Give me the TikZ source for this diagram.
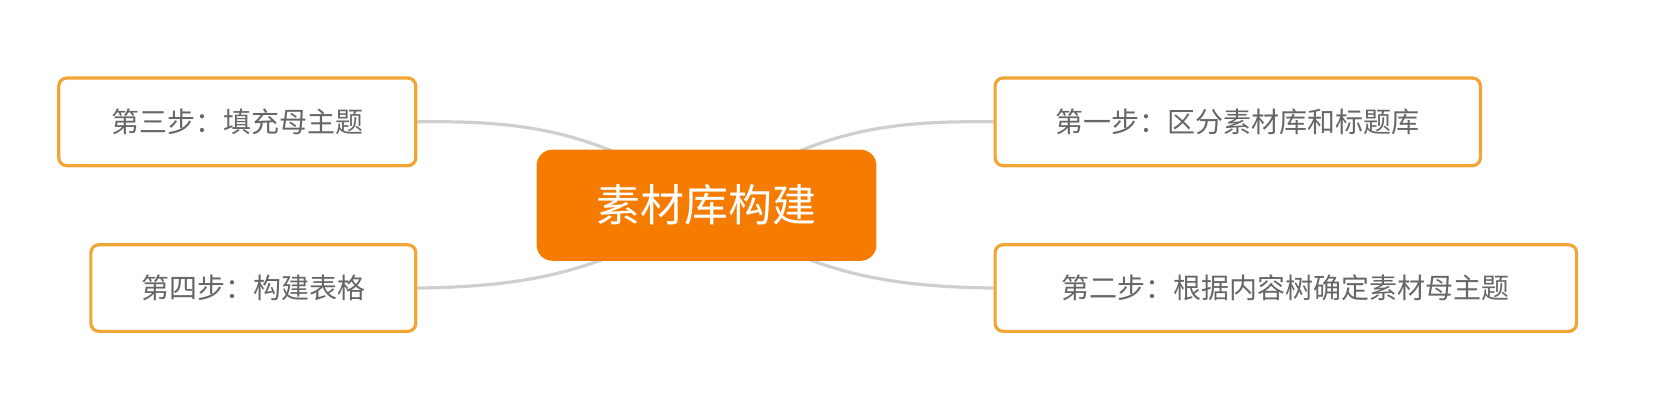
\documentclass[tikz,border=0pt]{standalone}
\usepackage{fontspec}
\newfontfamily\cjk{Noto Sans CJK SC}
\usetikzlibrary{backgrounds}
\definecolor{orn}{HTML}{F57C00}
\definecolor{bord}{HTML}{F0A535}
\definecolor{txt}{HTML}{666666}
\definecolor{ln}{HTML}{CFCFCF}
\begin{document}
\begin{tikzpicture}[x=0.5345pt,y=-0.5345pt,
  sub/.style={draw=bord,line width=1.6pt,rounded corners=4pt,fill=white,text=txt,font=\cjk\fontsize{14}{16}\selectfont,inner sep=0pt,anchor=center},
  con/.style={draw=ln,line width=1.6pt}]
\useasboundingbox (0,0) rectangle (1568,385.5);
\node[fill=orn,rounded corners=8pt,text=white,font=\cjk\fontsize{22}{26}\selectfont,minimum width=318*0.5345pt,minimum height=104*0.5345pt] (c) at (661,192) {素材库构建};
\node[sub,minimum width=334*0.5345pt,minimum height=82*0.5345pt] (lt) at (222,114) {第三步：填充母主题};
\node[sub,minimum width=304*0.5345pt,minimum height=81*0.5345pt] (lb) at (237,269.5) {第四步：构建表格};
\node[sub,minimum width=454*0.5345pt,minimum height=82*0.5345pt] (rt) at (1158,114) {第一步：区分素材库和标题库};
\node[sub,minimum width=544*0.5345pt,minimum height=81*0.5345pt] (rb) at (1203,269.5) {第二步：根据内容树确定素材母主题};
\begin{scope}[on background layer]
\draw[con] (c.center) .. controls (560,118) and (480,113) .. (lt.east);
\draw[con] (c.center) .. controls (560,260) and (480,268) .. (lb.east);
\draw[con] (c.center) .. controls (760,118) and (840,113) .. (rt.west);
\draw[con] (c.center) .. controls (760,260) and (840,268) .. (rb.west);
\end{scope}
\end{tikzpicture}
\end{document}
